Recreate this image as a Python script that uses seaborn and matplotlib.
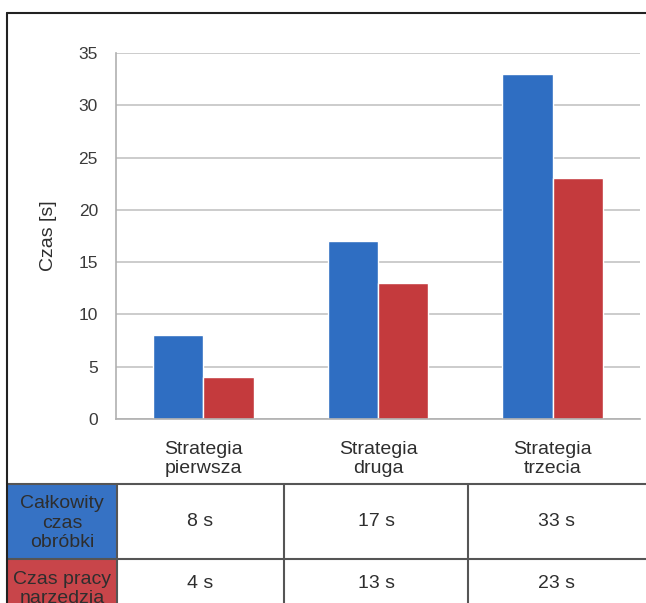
import matplotlib

matplotlib.use("Agg")
import matplotlib.pyplot as plt
import pandas as pd
import seaborn as sns
from matplotlib.patches import Rectangle

# data
categories = ["Strategia\npierwsza", "Strategia\ndruga", "Strategia\ntrzecia"]
series_names = ["Całkowity czas obróbki", "Czas pracy narzedzia"]
total_time = [8, 17, 33]
tool_time = [4, 13, 23]
row_labels = ["Całkowity\nczas\nobróbki", "Czas pracy\nnarzedzia"]
y_ticks = [0, 5, 10, 15, 20, 25, 30, 35]

BLUE = "#2f6ec2"
RED = "#c43a3d"
TXT = "#2e2e2e"

sns.set_theme(style="white")
plt.rcParams["font.family"] = ["Liberation Sans", "DejaVu Sans"]

df = pd.DataFrame({
    "Strategia": categories * 2,
    "Seria": [series_names[0]] * 3 + [series_names[1]] * 3,
    "Czas": total_time + tool_time,
})

W, H = 646, 603
fig = plt.figure(figsize=(W / 100, H / 100), dpi=100)

# main chart area
ax = fig.add_axes([116 / W, 1 - 419 / H, 524 / W, 366 / H])
sns.barplot(
    data=df, x="Strategia", y="Czas", hue="Seria",
    hue_order=series_names, palette=[BLUE, RED],
    width=0.575, gap=0, saturation=1, legend=False, ax=ax,
)
ax.set_ylim(0, 35)
ax.set_yticks(y_ticks)
ax.yaxis.grid(True, color="#c4c4c4", linewidth=1.2)
ax.set_axisbelow(True)
for s in ["top", "right"]:
    ax.spines[s].set_visible(False)
for s in ["left", "bottom"]:
    ax.spines[s].set_color("#b0b0b0")
    ax.spines[s].set_linewidth(1.2)
ax.tick_params(axis="y", length=0, pad=13, labelsize=12.5, labelcolor="#3a3a3a")
ax.tick_params(axis="x", length=0, pad=16, labelsize=14, labelcolor=TXT)
for lbl in ax.get_xticklabels():
    lbl.set_linespacing(1.1)
ax.set_xlabel("")
ax.set_ylabel("Czas [s]", fontsize=14, color=TXT)
ax.yaxis.set_label_coords(-0.112, 0.5)

# data table under the chart, drawn in pixel space
tax = fig.add_axes([0, 0, 1, 1], zorder=-1)
tax.set_xlim(0, W)
tax.set_ylim(H, 0)
tax.axis("off")
col_edges = [7, 117, 284, 468, 660]
row_edges = [484, 559, 640]
tax.add_patch(Rectangle((col_edges[0], row_edges[0]), col_edges[1] - col_edges[0],
                        row_edges[1] - row_edges[0], facecolor="#3672c4", edgecolor="none"))
tax.add_patch(Rectangle((col_edges[0], row_edges[1]), col_edges[1] - col_edges[0],
                        row_edges[2] - row_edges[1], facecolor="#c8454a", edgecolor="none"))
for y in row_edges[:2]:
    tax.plot([col_edges[0], W], [y, y], color="#555555", lw=1.5)
for x in col_edges[1:4]:
    tax.plot([x, x], [row_edges[0], H], color="#555555", lw=1.5)

row_centers = [523, 589]
value_centers = [521, 583]
for i, vals in enumerate([total_time, tool_time]):
    tax.text((col_edges[0] + col_edges[1]) / 2, row_centers[i], row_labels[i],
             ha="center", va="center", fontsize=14, color=TXT, linespacing=1.2)
    for j, v in enumerate(vals):
        tax.text((col_edges[j + 1] + col_edges[j + 2]) / 2 if j < 2 else 557,
                 value_centers[i], f"{v} s", ha="center", va="center",
                 fontsize=14, color=TXT)

# outer frame of the whole picture
tax.plot([7, 7], [H, 13], color="#222222", lw=1.5)
tax.plot([7, W], [13, 13], color="#222222", lw=1.5)

fig.savefig("out.png", dpi=100)
